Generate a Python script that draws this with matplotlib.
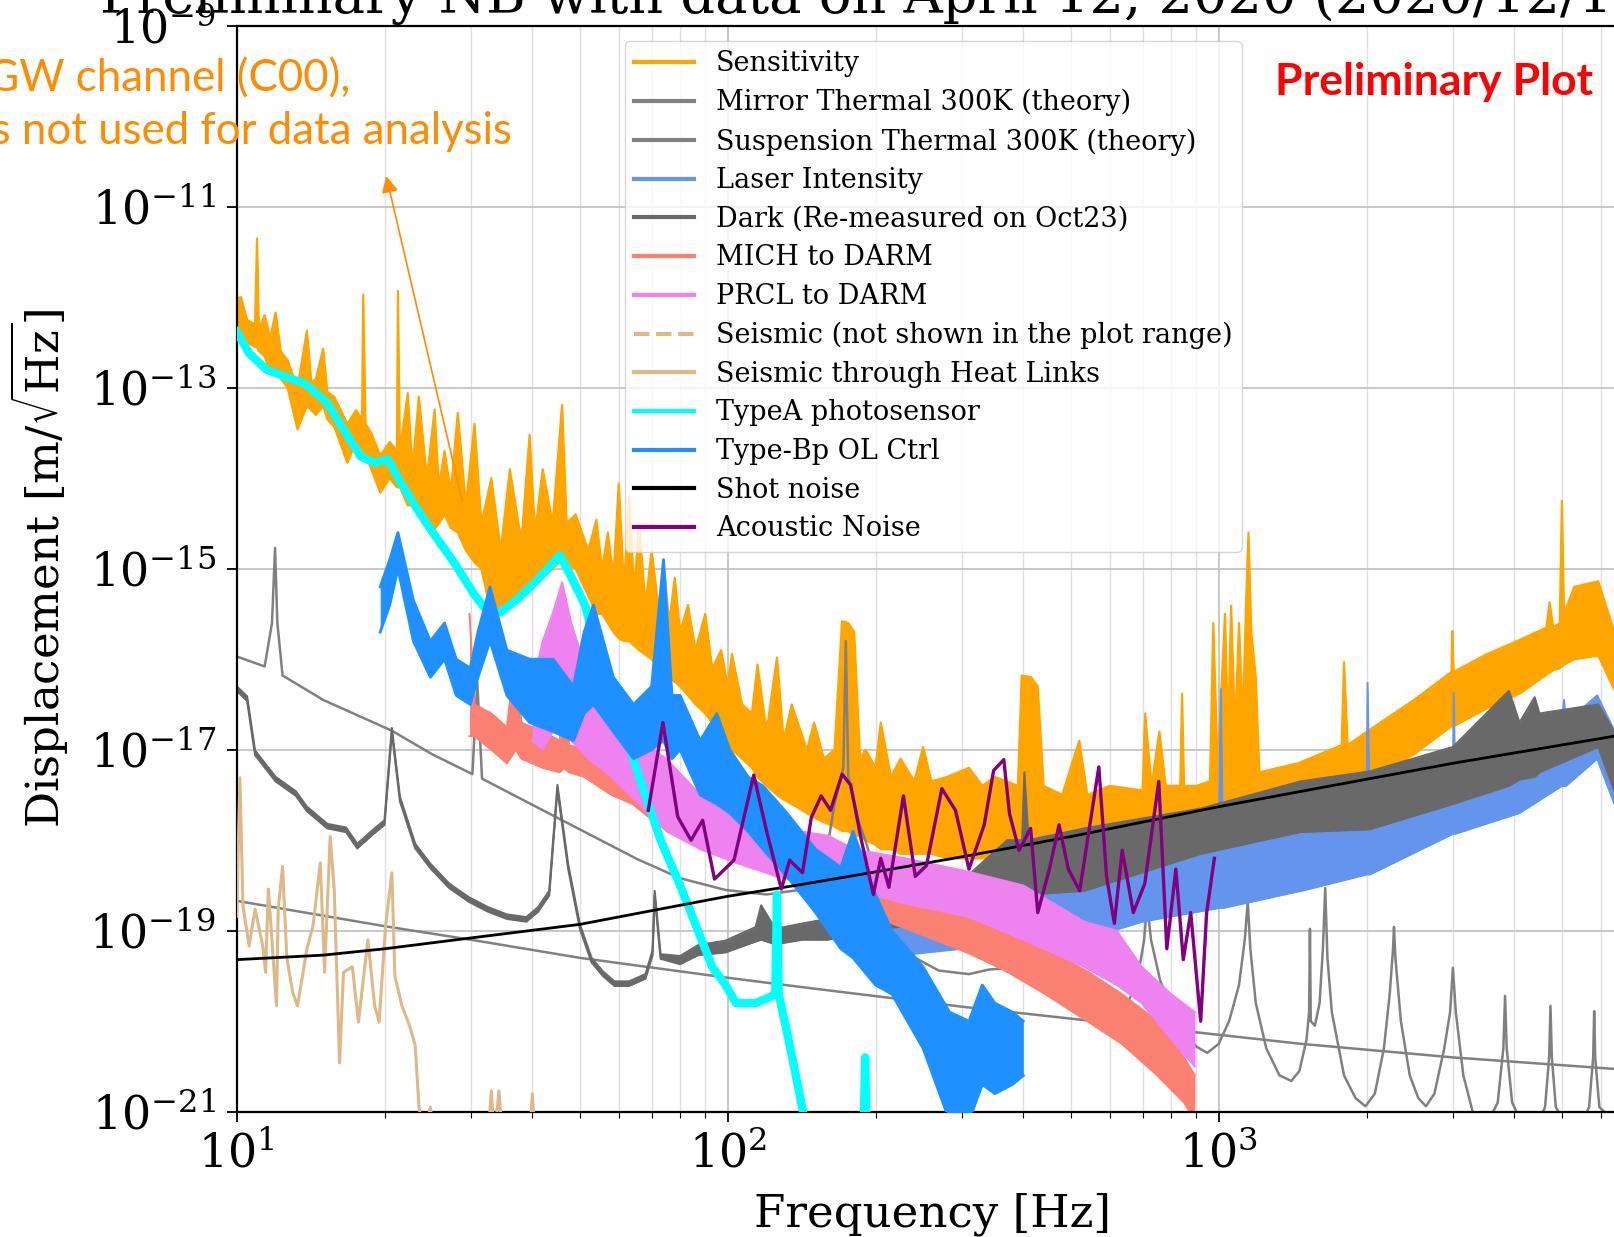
import numpy as np
import matplotlib
matplotlib.use("Agg")
import matplotlib.pyplot as plt
from matplotlib.ticker import FixedLocator, NullLocator, NullFormatter, LogFormatterMathtext

plt.rcParams['font.family'] = ['DejaVu Serif']
plt.rcParams['mathtext.fontset'] = 'dejavuserif'

# ---------------- data: frequency [Hz], log10 displacement [m/rtHz] ----------------
# noisy spectra given as (freq, lower edge, upper edge)
sensitivity = [
    (10, -12.36, -12.01), (10.2, -12.40, -12.00), (10.5, -12.50, -12.25), (10.9, -12.55, -12.30),
    (11.0, -12.55, -11.35), (11.1, -12.60, -12.35), (11.4, -12.65, -12.20), (11.7, -12.84, -12.45),
    (12.0, -12.84, -12.17), (12.3, -12.90, -12.60), (12.7, -13.00, -12.70), (13.3, -13.46, -13.00),
    (13.9, -13.20, -12.37), (14.2, -13.25, -12.95), (14.5, -13.30, -12.90), (15.0, -13.20, -12.57),
    (15.3, -13.35, -13.05), (15.8, -13.43, -13.10), (16.8, -13.83, -13.40), (17.5, -13.60, -13.25),
    (18.0, -13.70, -13.35), (18.1, -13.70, -11.97), (18.3, -13.75, -13.40), (18.8, -13.90, -13.50),
    (19.6, -14.16, -13.75), (20.5, -14.00, -13.60), (21.2, -14.10, -13.70), (21.3, -14.10, -11.93),
    (21.5, -14.10, -13.70), (22.3, -14.30, -13.06), (22.8, -14.30, -13.90), (23.5, -14.30, -13.10),
    (24.4, -14.40, -14.00), (25.3, -14.56, -13.24), (25.8, -14.50, -14.10), (26.5, -14.40, -13.70),
    (27.3, -14.55, -14.15), (28.2, -14.60, -13.28), (29.3, -14.80, -14.30), (30.5, -14.93, -13.40),
    (31.5, -15.00, -14.50), (33.0, -15.50, -14.00), (34.5, -15.40, -14.80), (36.0, -15.40, -13.90),
    (38.0, -15.30, -14.70), (39.5, -15.20, -13.52), (40.5, -15.15, -14.60), (42.0, -15.10, -13.90),
    (44.0, -15.00, -14.50), (46.0, -14.90, -13.19), (47.0, -14.95, -14.50), (49.0, -15.00, -14.40),
    (52.0, -15.30, -14.80), (54.0, -15.50, -14.46), (55.5, -15.50, -15.00), (57.0, -15.60, -14.60),
    (58.5, -15.70, -15.10), (60.0, -15.77, -14.06), (61.5, -15.80, -15.20), (63.0, -15.80, -14.20),
    (64.5, -15.85, -15.25), (66.0, -15.90, -14.50), (68.0, -15.95, -15.40), (70.0, -16.00, -14.80),
    (72.6, -16.10, -15.50), (74.0, -16.10, -14.90), (76.0, -16.20, -15.60), (78.0, -16.25, -15.10),
    (80.0, -16.30, -15.70), (83.0, -16.40, -15.40), (86.0, -16.50, -15.90), (90.0, -16.60, -15.50),
    (93.0, -16.70, -16.10), (97.0, -16.80, -15.90), (100, -17.00, -16.30), (102, -17.00, -15.94),
    (107, -17.10, -16.50), (112, -17.20, -16.60), (115, -17.30, -16.06), (120, -17.40, -16.80),
    (126, -17.50, -15.98), (130, -17.55, -16.90), (135, -17.60, -16.50), (145, -17.70, -17.00),
    (150, -17.75, -16.70), (157, -17.80, -17.10), (165, -17.85, -17.00), (171, -17.90, -15.58),
    (176, -17.90, -15.60), (181, -17.95, -15.70), (186, -17.95, -17.10), (191, -18.00, -17.00),
    (200, -18.05, -17.20), (205, -18.10, -16.70), (215, -18.10, -17.30), (225, -18.15, -17.10),
    (240, -18.15, -17.35), (250, -18.15, -16.97), (260, -18.15, -17.35), (280, -18.20, -17.30),
    (310, -18.20, -17.20), (330, -18.20, -17.40), (350, -18.20, -17.30), (390, -18.20, -17.40),
    (397, -18.20, -16.18), (415, -18.20, -16.20), (428, -18.15, -16.30), (440, -18.15, -17.40),
    (480, -18.10, -17.50), (520, -18.05, -16.90), (540, -18.05, -17.50), (600, -18.00, -17.40),
    (700, -17.95, -17.45), (708, -17.95, -16.60), (730, -17.92, -17.40), (757, -17.90, -16.80),
    (780, -17.90, -17.40), (835, -17.85, -17.40), (842, -17.85, -16.38), (850, -17.85, -17.40),
    (900, -17.80, -17.40), (960, -17.75, -17.35), (975, -17.75, -15.60), (995, -17.75, -17.20),
    (1030, -17.75, -15.50), (1045, -17.75, -16.80), (1060, -17.75, -15.41), (1080, -17.75, -16.80),
    (1100, -17.75, -15.60), (1120, -17.72, -16.70), (1135, -17.72, -15.50), (1150, -17.70, -14.60),
    (1165, -17.70, -15.70), (1190, -17.70, -16.20), (1210, -17.70, -17.25), (1450, -17.60, -17.15),
    (1780, -17.45, -16.95), (1800, -17.45, -16.03), (1830, -17.43, -16.95), (2030, -17.33, -16.78),
    (2500, -17.05, -16.45), (2980, -16.74, -16.14), (2990, -16.74, -15.69), (3010, -16.74, -16.14),
    (3500, -16.55, -15.95), (4130, -16.37, -15.78), (4650, -16.17, -15.65), (4720, -16.15, -15.37),
    (4800, -16.12, -15.65), (4950, -16.10, -15.60), (5000, -16.08, -14.25), (5050, -16.06, -15.50),
    (5300, -16.00, -15.20), (5930, -15.96, -15.14), (6500, -16.42, -15.82), (8000, -16.90, -16.30),
]

mirror_thermal = [
    (10, -18.67), (20, -18.95), (30, -19.10), (50, -19.30), (100, -19.52), (140, -19.62),
    (300, -19.84), (1000, -20.15), (1470, -20.25), (3000, -20.40), (6500, -20.53), (8000, -20.57),
]

suspension_thermal = [
    (10, -15.97), (11.4, -16.08), (11.8, -15.60), (11.97, -14.77), (12.1, -15.60), (12.4, -16.18),
    (15, -16.45), (20.7, -16.79), (25, -17.05), (30.2, -17.27), (30.9, -16.25), (31.6, -17.32),
    (44.9, -17.75), (65.5, -18.21), (80, -18.42), (99, -18.55), (120, -18.60), (140, -18.55),
    (157, -18.32), (165, -17.60), (172, -17.20), (174, -15.80), (176, -17.30), (185, -17.80),
    (192, -18.05), (204, -18.56), (214, -18.93), (241, -19.30), (269, -19.44), (310, -19.48),
    (340, -19.43), (400, -19.40), (450, -19.45), (530, -19.65), (609, -19.90), (640, -19.88),
    (680, -19.60), (705, -19.10), (715, -18.70), (728, -19.10), (760, -19.55), (800, -19.85),
    (850, -20.10), (900, -20.28), (948, -20.35), (1000, -20.25), (1050, -20.00), (1100, -19.60),
    (1130, -19.10), (1146, -18.68), (1160, -19.20), (1190, -19.80), (1250, -20.30), (1330, -20.60),
    (1406, -20.66), (1460, -20.55), (1510, -20.20), (1528, -19.90), (1534, -18.98), (1540, -20.00),
    (1570, -20.05), (1605, -19.80), (1630, -19.20), (1648, -18.53), (1665, -19.30), (1700, -19.90),
    (1800, -20.60), (1900, -20.85), (1990, -20.94), (2080, -20.80), (2170, -20.30), (2230, -19.70),
    (2265, -19.20), (2275, -18.96), (2290, -19.30), (2350, -20.00), (2450, -20.60), (2550, -20.85),
    (2643, -20.94), (2750, -20.80), (2880, -20.30), (2960, -19.90), (2999, -19.41), (3040, -19.90),
    (3150, -20.60), (3400, -21.30), (3700, -20.90), (3800, -20.30), (3830, -19.72), (3860, -20.30),
    (3960, -20.90), (4300, -21.30), (4620, -20.95), (4710, -20.40), (4739, -19.83), (4770, -20.40),
    (4860, -20.95), (5300, -21.30), (5680, -20.95), (5790, -20.40), (5817, -19.89), (5845, -20.40),
    (5960, -20.95), (7000, -21.30),
]

laser_intensity = [
    (200, -19.30, -18.70), (300, -19.20, -18.60), (400, -19.15, -18.50), (530, -19.10, -18.40),
    (700, -18.90, -18.20), (1000, -18.75, -18.10), (1010, -18.75, -16.33), (1020, -18.75, -18.10),
    (1500, -18.55, -17.90), (2000, -18.38, -17.70), (2010, -18.38, -16.26), (2030, -18.38, -17.70),
    (3000, -17.93, -17.24), (3010, -17.93, -16.37), (3030, -17.93, -17.24), (4100, -17.70, -16.97),
    (5000, -17.40, -16.70), (5050, -17.40, -16.45), (5100, -17.40, -16.70), (5900, -17.10, -16.40),
    (6500, -17.70, -16.87), (8000, -18.20, -17.40),
]

dark_noise = [
    (10, -16.35, -16.30), (10.5, -16.46, -16.41), (10.9, -17.06, -17.01), (12.0, -17.35, -17.30),
    (13.2, -17.51, -17.46), (13.9, -17.68, -17.63), (15.3, -17.87, -17.82), (16.7, -17.91, -17.86),
    (17.6, -18.09, -18.04), (18.9, -17.94, -17.89), (20.0, -17.83, -17.78), (20.7, -16.81, -16.76),
    (21.5, -17.57, -17.52), (23.1, -18.09, -18.04), (24.8, -18.31, -18.26), (27.1, -18.53, -18.48),
    (29.7, -18.68, -18.63), (32.5, -18.79, -18.74), (35.5, -18.87, -18.82), (38.9, -18.90, -18.85),
    (41.1, -18.79, -18.74), (43.3, -18.61, -18.56), (45.0, -17.44, -17.39), (47.3, -18.31, -18.26),
    (50.0, -18.98, -18.93), (52.8, -19.35, -19.30), (55.7, -19.50, -19.45), (58.8, -19.61, -19.56),
    (63, -19.61, -19.56), (68, -19.53, -19.48), (70.3, -19.27, -19.22), (71.0, -18.61, -18.56),
    (73, -19.31, -19.26), (80, -19.37, -19.28), (87, -19.27, -19.16), (99, -19.24, -19.11),
    (114, -19.12, -18.96), (117, -19.10, -18.72), (125, -19.15, -18.98), (142, -19.10, -18.92),
    (160, -19.10, -18.87), (190, -19.00, -18.77), (230, -18.95, -18.67), (300, -18.90, -18.45),
    (371, -18.70, -18.00), (398, -18.65, -18.00), (402, -18.65, -17.25), (410, -18.60, -18.00),
    (532, -18.56, -17.87), (921, -18.15, -17.65), (1470, -17.91, -17.35), (2030, -17.88, -17.24),
    (3000, -17.60, -16.97), (3900, -17.40, -16.35), (4100, -17.33, -16.70), (4400, -17.30, -16.42),
    (4500, -17.25, -16.60), (5930, -16.97, -16.50), (6500, -17.56, -16.87), (8000, -18.00, -17.30),
]

mich_to_darm = [
    (29.8, -16.85, -15.50), (30.5, -16.85, -16.50), (33, -17.00, -16.60), (35.5, -17.15, -16.75),
    (37, -17.00, -15.93), (38, -17.10, -16.70), (42, -17.20, -16.80), (45.5, -17.25, -16.90),
    (46.4, -17.20, -15.30), (47.5, -17.25, -16.95), (51, -17.30, -17.00), (58, -17.50, -17.20),
    (64, -17.60, -17.30), (73, -17.85, -17.40), (87, -17.95, -17.55), (100, -18.10, -17.65),
    (120, -18.30, -17.90), (140, -18.50, -18.05), (170, -18.65, -18.20), (200, -18.85, -18.40),
    (250, -19.05, -18.60), (310, -19.25, -18.80), (370, -19.45, -19.00), (443, -19.70, -19.20),
    (540, -20.00, -19.45), (635, -20.25, -19.70), (750, -20.60, -20.00), (850, -20.90, -20.40),
    (894, -21.10, -20.60),
]

prcl_to_darm = [
    (40, -16.90, -16.30), (42, -17.00, -15.80), (44, -16.80, -15.50), (46, -16.50, -15.15),
    (48, -16.90, -15.60), (50, -17.00, -15.90), (52, -17.10, -16.30), (58, -17.30, -16.60),
    (66, -17.60, -16.90), (75, -17.90, -17.10), (88, -18.10, -17.50), (104, -18.25, -17.60),
    (126, -18.40, -17.80), (140, -18.45, -17.90), (160, -18.50, -17.95), (181, -18.55, -18.10),
    (230, -18.70, -18.20), (310, -18.85, -18.35), (400, -19.10, -18.50), (532, -19.40, -18.90),
    (620, -19.60, -19.00), (697, -19.80, -19.40), (800, -20.20, -19.70), (894, -20.50, -19.90),
]

seismic_heat_links = [
    (10.0, -18.84), (10.15, -17.31), (10.3, -18.73), (10.6, -19.17), (10.9, -18.76), (11.3, -19.17),
    (11.45, -19.46), (11.6, -18.54), (11.9, -19.40), (12.05, -19.83), (12.15, -18.76), (12.4, -18.29),
    (12.65, -19.30), (13.0, -19.68), (13.3, -19.83), (13.9, -19.20), (14.3, -18.95), (14.8, -18.25),
    (15.1, -19.46), (15.5, -17.96), (15.8, -18.55), (16.2, -20.46), (16.5, -19.46), (17.2, -19.40),
    (17.7, -20.01), (18.5, -19.10), (19.1, -19.83), (19.5, -20.01), (20.1, -18.95), (20.7, -18.36),
    (21.0, -19.50), (21.7, -19.83), (22.5, -20.05), (23.1, -20.27), (23.5, -20.93), (24.0, -21.30),
    (24.8, -20.95), (25.2, -21.30), (32.5, -21.30), (33.0, -20.77), (33.5, -21.30), (34.2, -20.77),
    (34.8, -21.30), (39.5, -21.30), (40.0, -20.80), (40.5, -21.30),
]

typeA_photosensor = [
    (10, -12.38), (10.6, -12.62), (11.5, -12.80), (12.6, -12.88), (13.7, -12.95), (14.1, -13.00),
    (15.3, -13.17), (16.5, -13.46), (17.9, -13.76), (19.1, -13.83), (20.3, -13.79), (21.6, -14.05),
    (23.3, -14.34), (25.3, -14.63), (27.7, -14.93), (30.5, -15.29), (32.5, -15.48), (34.5, -15.48),
    (37.4, -15.33), (40.5, -15.15), (45.5, -14.85), (47.5, -15.04), (51.2, -15.40), (54.7, -16.00),
    (60, -16.60), (66, -17.30), (73, -18.00), (80, -18.50), (87, -19.00), (93, -19.40), (99, -19.60),
    (104, -19.80), (114, -19.80), (120, -19.75), (125, -19.70), (126, -18.60), (127, -19.70),
    (133, -20.20), (140, -20.80), (146, -21.30), (189, -21.30), (190.5, -20.40), (192, -21.30),
]

typeBp_ol_ctrl = [
    (19.6, -15.70, -15.20), (20.5, -15.40, -14.90), (21.3, -15.00, -14.60), (22.9, -15.80, -15.35),
    (24.8, -16.20, -15.80), (26.5, -16.00, -15.60), (28, -16.40, -16.00), (29.9, -16.50, -16.10),
    (31, -16.20, -15.70), (32.8, -15.80, -15.20), (35.5, -16.40, -15.90), (39.5, -16.70, -16.00),
    (44.1, -16.80, -16.00), (48.5, -16.90, -16.30), (51, -16.60, -15.70), (53.3, -16.50, -15.40),
    (58.5, -16.80, -16.20), (64.3, -17.10, -16.50), (70, -17.00, -16.30), (74, -16.90, -14.90),
    (77, -17.10, -16.40), (80, -17.00, -16.40), (87.9, -17.50, -16.90), (95, -17.60, -16.60),
    (101, -17.70, -17.00), (110, -17.90, -17.30), (118, -18.10, -17.40), (132, -18.40, -17.70),
    (151, -18.80, -18.10), (170, -19.20, -18.30), (180, -19.30, -17.90), (200, -19.60, -18.60),
    (216, -19.70, -19.00), (250, -20.30, -19.40), (283, -21.10, -19.90), (310, -21.10, -20.00),
    (330, -20.70, -19.60), (350, -20.80, -19.80), (380, -20.70, -19.90), (400, -20.60, -20.00),
]

shot_noise = [
    (10, -19.32), (15, -19.27), (20, -19.20), (30, -19.08), (50, -18.93), (73, -18.76), (100, -18.62),
    (141, -18.49), (200, -18.35), (310, -18.17), (500, -17.96), (1000, -17.63), (1473, -17.46),
    (3000, -17.15), (6400, -16.85), (10000, -16.66),
]

acoustic_noise = [
    (68.9, -17.67), (73.8, -16.70), (79.1, -17.74), (84.2, -18.00), (88.9, -17.78), (94, -18.43),
    (103, -18.22), (113, -17.28), (120, -17.90), (128.6, -18.54), (133.7, -18.22), (142, -18.36),
    (148, -17.75), (155, -17.51), (162, -17.67), (171, -17.27), (178, -17.39), (187, -17.99),
    (198, -18.60), (205, -18.20), (213, -18.52), (228, -17.51), (241, -18.40), (254, -18.28),
    (273, -17.43), (291, -17.67), (310, -18.32), (333, -17.83), (348, -17.23), (365, -17.11),
    (375, -17.71), (392, -18.11), (414, -17.87), (428, -18.80), (452, -18.32), (473, -17.83),
    (494, -18.32), (521, -18.56), (570, -17.19), (591, -18.40), (613, -18.92), (636, -18.11),
    (670, -18.80), (707, -18.48), (755, -17.35), (784, -19.20), (818, -18.32), (847, -19.32),
    (877, -18.80), (919, -20.00), (945, -18.80), (980, -18.20),
]

legend_labels = [
    "Sensitivity", "Mirror Thermal 300K (theory)", "Suspension Thermal 300K (theory)",
    "Laser Intensity", "Dark (Re-measured on Oct23)", "MICH to DARM", "PRCL to DARM",
    "Seismic (not shown in the plot range)", "Seismic through Heat Links", "TypeA photosensor",
    "Type-Bp OL Ctrl", "Shot noise", "Acoustic Noise",
]

y_tick_exponents = [-21, -19, -17, -15, -13, -11, -9]
x_tick_values = [10, 100, 1000]

# ---------------- figure ----------------
W, H = 1614, 1237
fig = plt.figure(figsize=(W / 100, H / 100), dpi=100)
ax_left, ax_right, ax_top, ax_bottom = 236.7, 1629.0, 25.7, 1111.7
ax = fig.add_axes([ax_left / W, 1 - ax_bottom / H, (ax_right - ax_left) / W, (ax_bottom - ax_top) / H])
ax.set_xscale('log')
ax.set_yscale('log')


def col(data, i):
    return np.array([d[i] for d in data], dtype=float)


def draw_band(data, color, z, label, lw=1.4):
    f = col(data, 0)
    lo = 10.0 ** col(data, 1)
    hi = 10.0 ** col(data, 2)
    ax.fill_between(f, lo, hi, color=color, lw=0, zorder=z)
    ax.plot(f, lo, color=color, lw=lw, zorder=z)
    ax.plot(f, hi, color=color, lw=lw, zorder=z, label=label)


def draw_line(data, color, z, label, lw):
    ax.plot(col(data, 0), 10.0 ** col(data, 1), color=color, lw=lw, zorder=z, label=label)


draw_band(sensitivity, 'orange', 2.0, legend_labels[0], lw=1.6)
draw_line(mirror_thermal, 'gray', 2.1, legend_labels[1], 1.8)
draw_line(suspension_thermal, 'gray', 2.2, legend_labels[2], 1.8)
draw_band(laser_intensity, 'cornflowerblue', 2.3, legend_labels[3])
draw_band(dark_noise, 'dimgray', 2.4, legend_labels[4], lw=1.5)
draw_band(mich_to_darm, 'salmon', 2.5, legend_labels[5])
draw_band(prcl_to_darm, 'violet', 2.6, legend_labels[6])
ax.plot([], [], color='burlywood', ls='--', lw=2.5, zorder=2.7, label=legend_labels[7])
draw_line(seismic_heat_links, 'burlywood', 2.8, legend_labels[8], 2.2)
draw_line(typeA_photosensor, 'cyan', 2.9, legend_labels[9], 6.0)
draw_band(typeBp_ol_ctrl, 'dodgerblue', 3.0, legend_labels[10], lw=2.0)
draw_line(shot_noise, 'black', 3.1, legend_labels[11], 2.0)
draw_line(acoustic_noise, 'purple', 3.2, legend_labels[12], 2.4)

ax.set_xlim(10, 10 ** (1 + (ax_right - ax_left) / 491.0))
ax.set_ylim(1e-21, 1e-9)

ax.xaxis.set_major_locator(FixedLocator(x_tick_values))
ax.xaxis.set_major_formatter(LogFormatterMathtext())
minor_x = [m * 10 ** k for k in (1, 2, 3) for m in range(2, 10)]
ax.xaxis.set_minor_locator(FixedLocator(minor_x))
ax.xaxis.set_minor_formatter(NullFormatter())
ax.yaxis.set_major_locator(FixedLocator([10.0 ** e for e in y_tick_exponents]))
ax.yaxis.set_major_formatter(LogFormatterMathtext())
ax.yaxis.set_minor_locator(NullLocator())

ax.tick_params(axis='both', which='major', labelsize=33, length=7, width=1.3, pad=8)
ax.tick_params(axis='x', which='minor', length=4, width=0.8)
ax.grid(True, which='major', color='#c4c4c4', lw=1.3, zorder=0)
ax.grid(True, which='minor', axis='x', color='#e0e0e0', lw=1.0, zorder=0)
ax.set_axisbelow(True)
for s in ax.spines.values():
    s.set_linewidth(1.6)

ax.set_xlabel('Frequency [Hz]', fontsize=32.5)
ax.set_ylabel(r'Displacement [m/$\sqrt{\mathrm{Hz}}$]', fontsize=32.5)
ax.xaxis.set_label_coords(0.5, -(1192 - ax_bottom) / (ax_bottom - ax_top))
ax.yaxis.set_label_coords((71 - ax_left) / (ax_right - ax_left), 0.5)

leg = ax.legend(loc='upper left', bbox_to_anchor=((625 - ax_left) / (ax_right - ax_left),
                                                  1 - (41 - ax_top) / (ax_bottom - ax_top)),
                borderaxespad=0, fontsize=19.5, handlelength=2.2, labelspacing=0.43,
                borderpad=0.35, framealpha=0.8, edgecolor='#cccccc')
for ln in leg.get_lines():
    ln.set_linewidth(3.0)

# arrow from the note to the sensitivity curve
ax.annotate('', xy=(20.1, 10 ** -10.63), xytext=(28.9, 10 ** -14.29),
            arrowprops=dict(arrowstyle='-|>', color='darkorange', lw=1.2, mutation_scale=25),
            zorder=5)

fig.text(100 / W, 1 - 13 / H, 'Preliminary NB with data on April 12, 2020 (2020/12/16)',
         fontsize=39, ha='left', va='baseline')
fig.text(350 / W, 1 - 91 / H, 'from GW channel (C00),', fontsize=31.5,
         color='darkorange', ha='right', va='baseline', family=['Lato', 'DejaVu Sans'])
fig.text(512 / W, 1 - 144 / H, 'It is not used for data analysis', fontsize=31.5,
         color='darkorange', ha='right', va='baseline', family=['Lato', 'DejaVu Sans'])
fig.text(1593 / W, 1 - 95 / H, 'Preliminary Plot', fontsize=32, color='red', fontweight='bold',
         ha='right', va='baseline', family=['Lato', 'DejaVu Sans'])

fig.savefig('out.png', dpi=100)
